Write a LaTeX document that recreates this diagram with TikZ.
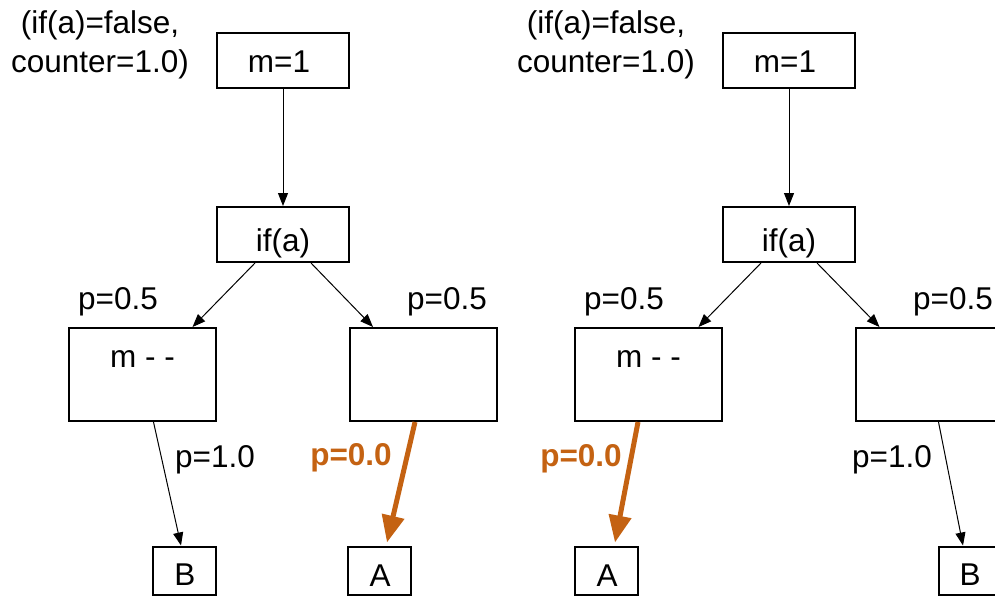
\documentclass[tikz,border=0pt]{standalone}
\usepackage{fontspec}
\setmainfont{Liberation Sans}
\usetikzlibrary{arrows.meta,calc}
\definecolor{hot}{RGB}{196,98,18}
\tikzset{
  every node/.style={font=\fontsize{31.5}{39}\selectfont},
  box/.style={draw, line width=2pt, inner sep=0pt, fill=white},
  topbox/.style={box, minimum width=132pt, minimum height=55pt},
  bigbox/.style={box, minimum width=147pt, minimum height=93pt},
  leafbox/.style={box, minimum width=63pt, minimum height=48pt},
  txt/.style={anchor=base, inner sep=0pt},
  hottxt/.style={txt, text=hot, font=\fontsize{31.5}{39}\selectfont\bfseries},
  link/.style={line width=1pt, -{Triangle[length=13pt,width=10pt]}},
  hotlink/.style={draw=hot, line width=5pt, -{Triangle[length=27pt,width=22pt]}}
}
\begin{document}
\begin{tikzpicture}[x=1pt,y=-1pt]
\useasboundingbox (0,0) rectangle (995,600);
\clip (0,0) rectangle (995,600);

% ---------- left tree ----------
% base anchor of a two-line node sits on the second line's baseline
\node[txt, align=center] (lbl1) at (100,72) {(if(a)=false,\\counter=1.0)};
\node[topbox] (m1) at (283,60.5) {};
\node[txt] (m1t) at (279,72) {m=1};
\node[topbox] (if1) at (283,234.5) {};
\node[txt] (if1t) at (283,251) {if(a)};
\node[bigbox] (mm1) at (142.5,374.5) {};
\node[txt] (mm1t) at (142.5,367) {m - -};
\node[bigbox] (e1) at (423,374.5) {};
\node[leafbox] (B1) at (184.5,570.5) {};
\node[txt] (B1t) at (185,585) {B};
\node[leafbox] (A1) at (379,570.5) {};
\node[txt] (A1t) at (380,586) {A};

\node[txt] (p1a) at (118,309) {p=0.5};
\node[txt] (p1b) at (447,309) {p=0.5};
\node[txt] (p1c) at (215,467) {p=1.0};
\node[hottxt] (p1d) at (351,465) {p=0.0};

\draw[link] (m1.south) -- (if1.north);
\draw[link] ($(if1.south)+(-28,0)$) -- ($(mm1.north)+(50,0)$);
\draw[link] ($(if1.south)+(28,0)$) -- ($(e1.north)+(-50,0)$);
\draw[link] ($(mm1.south)+(11,0)$) -- ($(B1.north)+(-3.5,0)$);
\draw[hotlink] ($(e1.south)+(-8,0)$) -- ($(A1.north)+(8,-3)$);

% ---------- right tree ----------
\node[txt, align=center] (lbl2) at (606,72) {(if(a)=false,\\counter=1.0)};
\node[topbox] (m2) at (789,60.5) {};
\node[txt] (m2t) at (785,72) {m=1};
\node[topbox] (if2) at (789,234.5) {};
\node[txt] (if2t) at (789,251) {if(a)};
\node[bigbox] (mm2) at (648.5,374.5) {};
\node[txt] (mm2t) at (648.5,367) {m - -};
\node[bigbox] (e2) at (929.5,374.5) {};
\node[leafbox] (A2) at (606,570.5) {};
\node[txt] (A2t) at (607,586) {A};
\node[leafbox] (B2) at (970.5,570.5) {};
\node[txt] (B2t) at (970,585) {B};

\node[txt] (p2a) at (624,309) {p=0.5};
\node[txt] (p2b) at (953,309) {p=0.5};
\node[txt] (p2c) at (892,467) {p=1.0};
\node[hottxt] (p2d) at (581,466) {p=0.0};

\draw[link] (m2.south) -- (if2.north);
\draw[link] ($(if2.south)+(-28,0)$) -- ($(mm2.north)+(50,0)$);
\draw[link] ($(if2.south)+(28,0)$) -- ($(e2.north)+(-50,0)$);
\draw[hotlink] ($(mm2.south)+(-10.5,0)$) -- ($(A2.north)+(9,-3)$);
\draw[link] ($(e2.south)+(9,0)$) -- ($(B2.north)+(-7.5,0)$);
\end{tikzpicture}
\end{document}
